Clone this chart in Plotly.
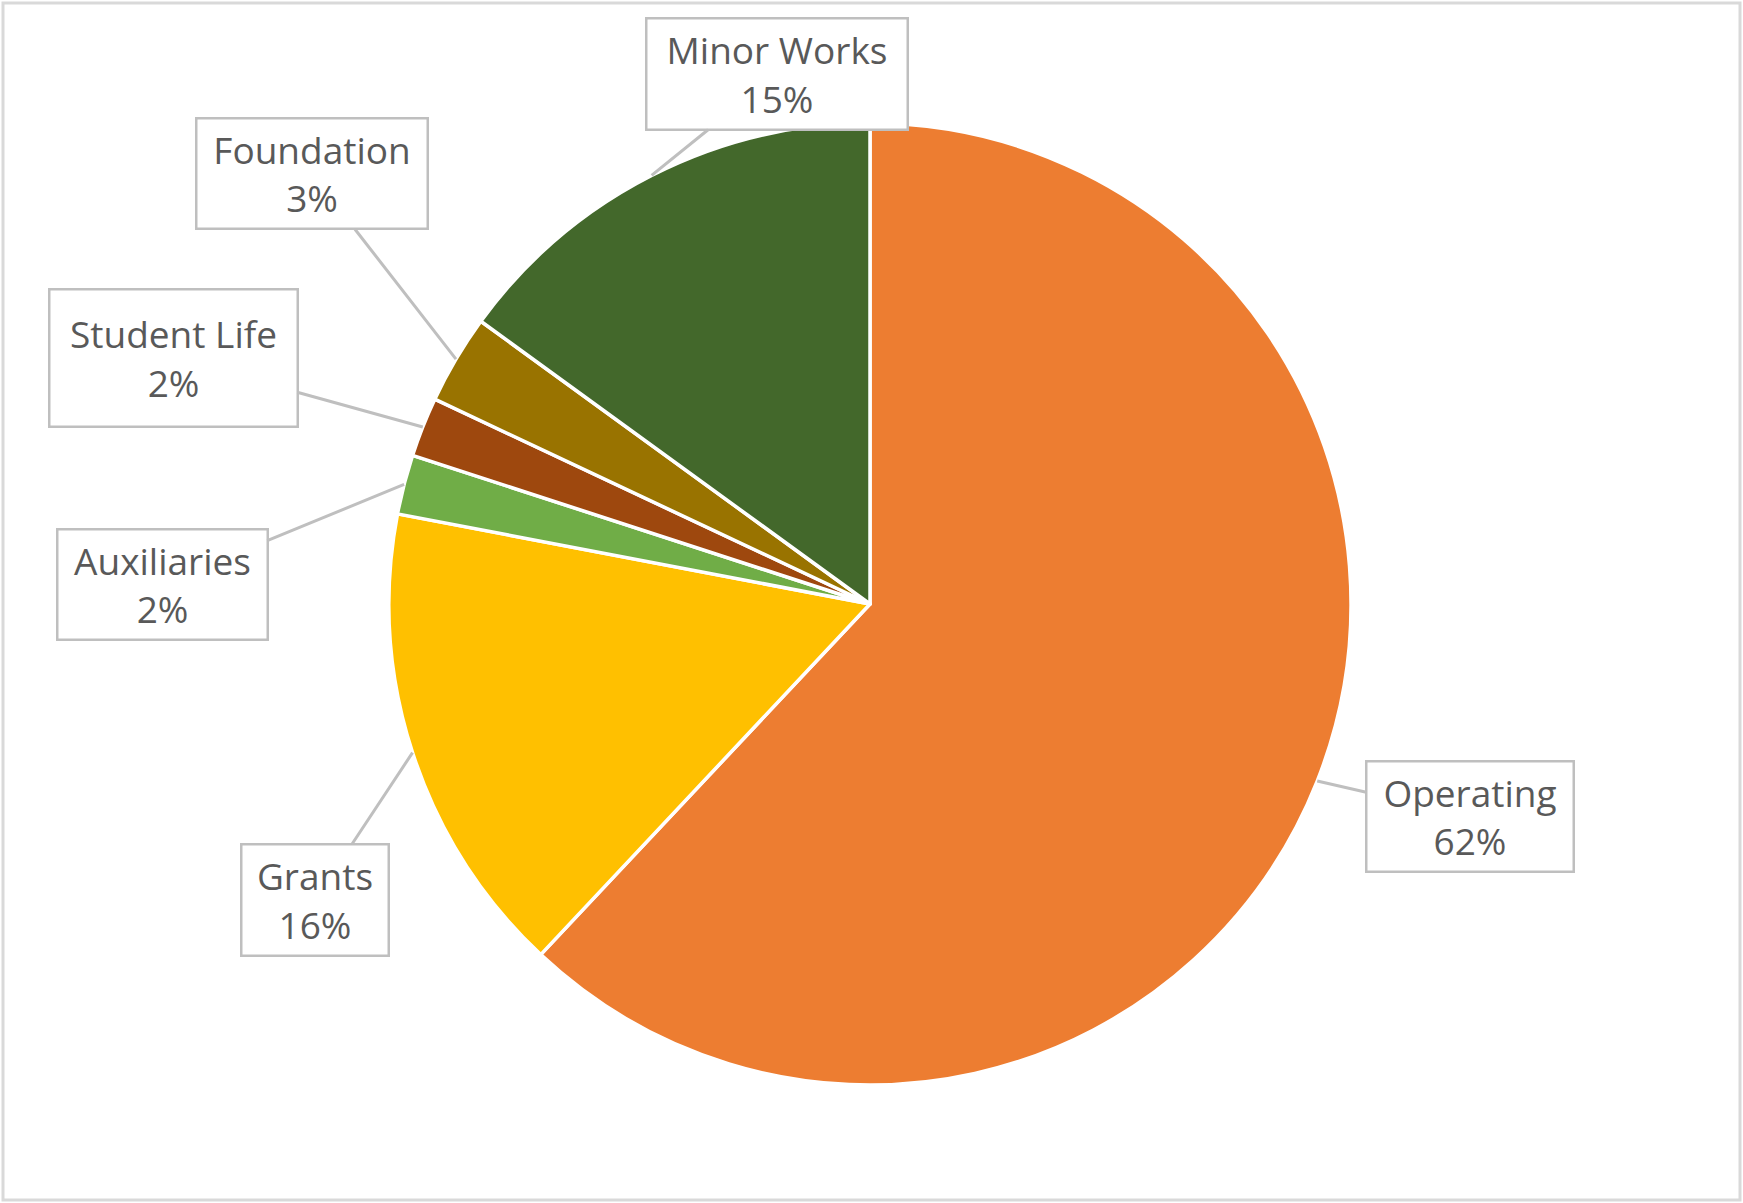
import math
import plotly.graph_objects as go

# Budget share by funding source (percent)
labels = ["Operating", "Grants", "Auxiliaries", "Student Life", "Foundation", "Minor Works"]
values = [62, 16, 2, 2, 3, 15]
colors = ["#ED7D31", "#FFC000", "#70AD47", "#9E480E", "#997300", "#43682B"]

# Callout box centres and sizes (pixels, from top-left of page)
box_cx = [1470, 315, 162, 173, 312, 777]
box_cy = [816, 900, 584, 358, 174, 74]
box_w = [210, 150, 213, 251, 234, 264]
box_h = [113, 114, 113, 140, 113, 114]

W, H = 1743, 1203
CX, CY, R = 870, 604, 481  # pie centre and radius in pixels

fig = go.Figure(
    go.Pie(
        labels=labels,
        values=values,
        sort=False,
        direction="clockwise",
        rotation=0,
        textinfo="none",
        marker=dict(colors=colors, line=dict(color="#FFFFFF", width=3.5)),
        domain=dict(
            x=[(CX - R) / W, (CX + R) / W],
            y=[1 - (CY + R) / H, 1 - (CY - R) / H],
        ),
        showlegend=False,
    )
)

# Callouts pointing at each slice's mid-angle on the rim
total = sum(values)
cum = 0
annotations = []
for lab, v, bx, by, bw, bh in zip(labels, values, box_cx, box_cy, box_w, box_h):
    mid = (cum + v / 2) / total * 2 * math.pi
    cum += v
    tx = CX + R * math.sin(mid)
    ty = CY - R * math.cos(mid)
    annotations.append(
        dict(
            x=tx / W,
            y=1 - ty / H,
            xref="paper",
            yref="paper",
            ax=bx - tx,
            ay=by - ty,
            axref="pixel",
            ayref="pixel",
            text=f"{lab}<br>{v}%",
            showarrow=True,
            arrowhead=0,
            arrowwidth=3,
            arrowcolor="#BFBFBF",
            standoff=0,
            bordercolor="#BFBFBF",
            borderwidth=2.5,
            borderpad=0,
            bgcolor="#FFFFFF",
            width=bw - 5,
            height=bh - 5,
            align="center",
            valign="middle",
            font=dict(family="Open Sans", size=37, color="#595959"),
        )
    )

fig.update_layout(
    width=W,
    height=H,
    margin=dict(l=0, r=0, t=0, b=0),
    paper_bgcolor="#FFFFFF",
    plot_bgcolor="#FFFFFF",
    annotations=annotations,
    shapes=[
        dict(
            type="rect",
            xref="paper",
            yref="paper",
            x0=3 / W,
            x1=1 - 3 / W,
            y0=3 / H,
            y1=1 - 3 / H,
            line=dict(color="#D9D9D9", width=3),
            fillcolor="rgba(0,0,0,0)",
            layer="below",
        )
    ],
)

fig.write_html("out.html")
